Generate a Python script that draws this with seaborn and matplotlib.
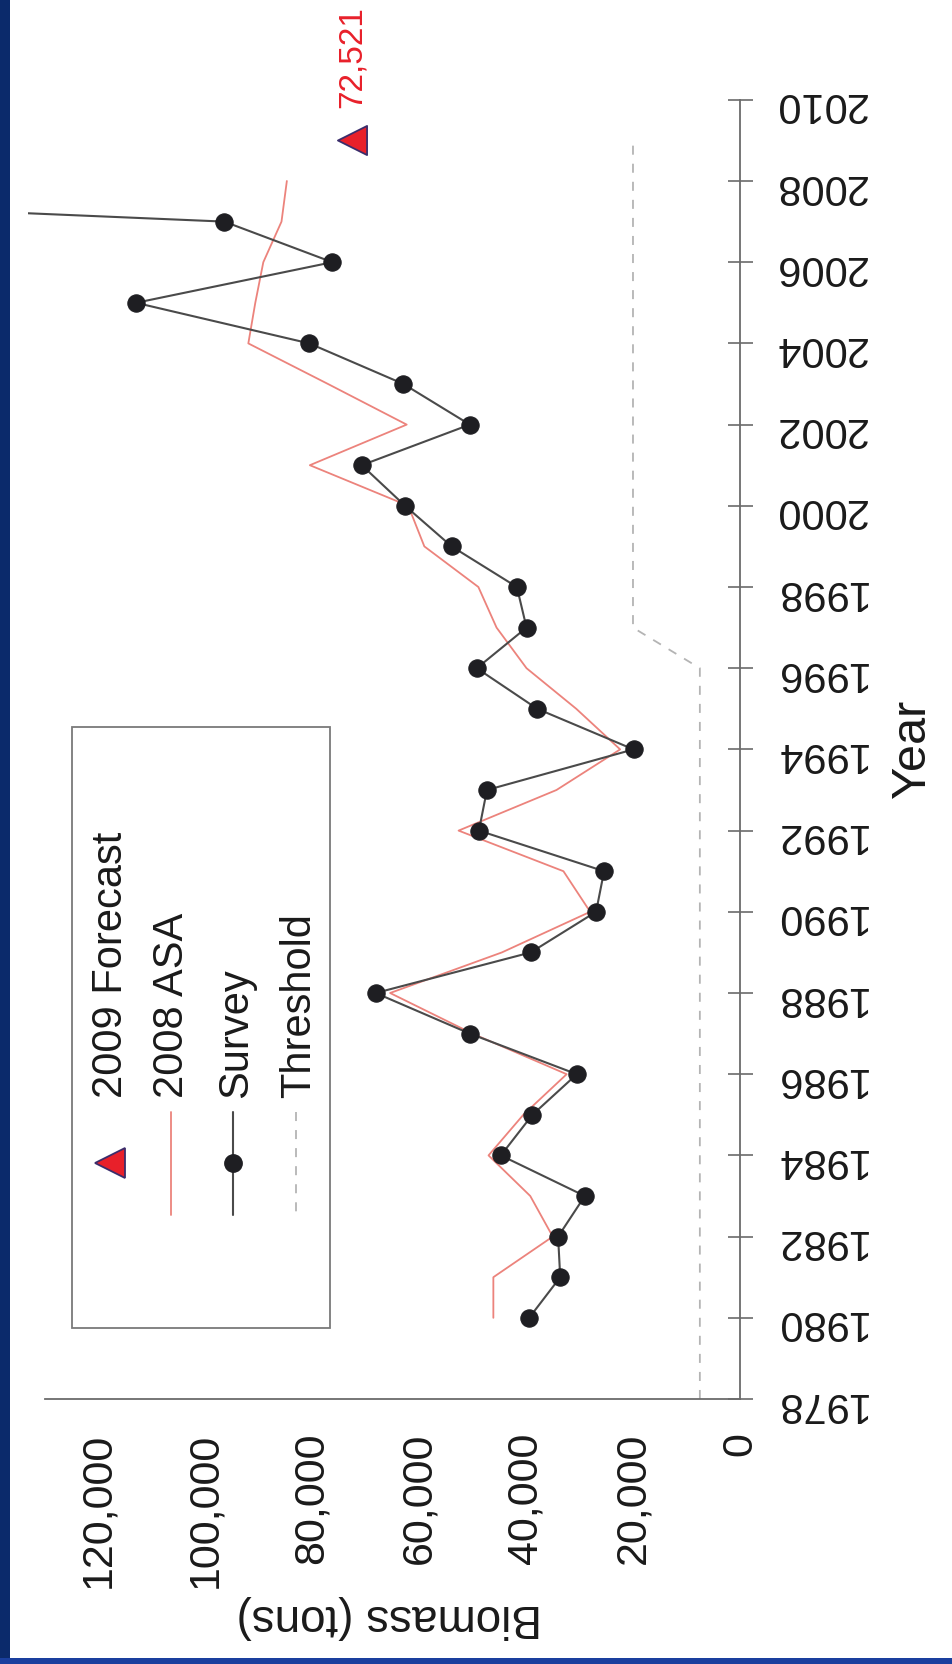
import matplotlib
matplotlib.use("Agg")
import matplotlib.pyplot as plt
from matplotlib.lines import Line2D
from matplotlib.patches import Rectangle
import seaborn as sns

survey_years = list(range(1980, 2009))
survey = [39400, 33600, 34000, 29000, 44700, 38800, 30500, 50500, 68100, 39100,
          26900, 25400, 48800, 47300, 19900, 37900, 49200, 39900, 41700, 53900,
          62600, 70700, 50500, 62900, 80500, 112900, 76200, 96400, 275000]
asa_years = list(range(1980, 2009))
asa = [46100, 46100, 35000, 39200, 47000, 40500, 32400, 50000, 65400, 44500,
       28000, 33000, 52600, 34300, 22400, 30600, 39900, 45500, 48900, 59000,
       62000, 80400, 62300, 77000, 91900, 90600, 89100, 85700, 84700]
threshold_years = [1978, 1996, 1997, 2009]
threshold = [7500, 7500, 20000, 20000]
forecast_year = [2009]
forecast = [72521]
biomass_ticks = [0, 20000, 40000, 60000, 80000, 100000, 120000]
year_ticks = list(range(1978, 2011, 2))
legend_labels = ["2009 Forecast", "2008 ASA", "Survey", "Threshold"]

sns.set_style("white")
plt.rcParams['font.family'] = ['Liberation Sans', 'DejaVu Sans']

W, H = 952, 1664
fig = plt.figure(figsize=(W / 100, H / 100), dpi=100)
fig.patch.set_facecolor('white')


def fx(px):
    return px / W


def fy(py):
    return 1 - py / H


# axes: biomass runs right-to-left, year bottom-to-top (chart turned 90 deg)
ax = fig.add_axes([0.02989, 0.15925, 0.7474, 0.83933])
ax.set_xlim(133000, 0)
ax.set_ylim(1978, 2012.4)

red = '#e8202a'
asa_col = '#ec837c'
grey = '#6b6b6b'

sns.lineplot(x=threshold, y=threshold_years, sort=False, estimator=None, ax=ax,
             color='#b4b4b4', linewidth=1.3, linestyle=(0, (5, 5)))
sns.lineplot(x=asa, y=asa_years, sort=False, estimator=None, ax=ax,
             color=asa_col, linewidth=1.3)
sns.lineplot(x=survey, y=survey_years, sort=False, estimator=None, ax=ax,
             color='#4a4a4a', linewidth=1.5, marker='o', markersize=12.5,
             markerfacecolor='#1e1e22', markeredgecolor='#1e1e22')
sns.scatterplot(x=forecast, y=forecast_year, ax=ax, marker='<', s=440,
                color=red, edgecolor='#3b2d6b', linewidth=1.3, zorder=5)
ax.text(forecast[0], 2009.8, f"{forecast[0]:,}", rotation=90, ha='center',
        va='bottom', color=red, fontsize=24)

# spines / ticks
for side in ['top', 'left']:
    ax.spines[side].set_visible(False)
for side in ['bottom', 'right']:
    ax.spines[side].set_color(grey)
    ax.spines[side].set_linewidth(1.3)
ax.spines['bottom'].set_bounds(0, 130000)
ax.spines['right'].set_bounds(1978, 2010)

ax.set_xticks(biomass_ticks)
ax.set_xticklabels([f"{v:,}" for v in biomass_ticks])
ax.set_yticks(year_ticks)
ax.set_yticklabels([str(y) for y in year_ticks])
ax.yaxis.tick_right()
ax.tick_params(axis='x', direction='inout', length=18, width=1.2, color=grey,
               pad=15, labelsize=31, labelrotation=90, labelcolor='#1a1a1a')
ax.tick_params(axis='y', direction='inout', length=18, width=1.2, color=grey,
               pad=15, labelsize=30, labelrotation=180, labelcolor='#1a1a1a')
ax.set_xlabel('')
ax.set_ylabel('')
ax.grid(False)

fig.text(fx(389), fy(1617), 'Biomass (tons)', rotation=180, ha='center',
         va='center', fontsize=33, color='#1a1a1a')
fig.text(fx(912), fy(749), 'Year', rotation=90, ha='center', va='center',
         fontsize=35, color='#1a1a1a')

# legend, drawn turned like the rest of the chart
fig.add_artist(Rectangle((fx(72), fy(1328)), fx(330) - fx(72), fy(727) - fy(1328),
                         transform=fig.transFigure, facecolor='white',
                         edgecolor='#7a7a7a', linewidth=1.3, zorder=3))
y0, y1, ym = fy(1112), fy(1215), fy(1163)
fig.add_artist(Line2D([fx(110)], [ym], transform=fig.transFigure, marker='<',
                      markersize=21, color=red, markeredgecolor='#3b2d6b',
                      markeredgewidth=1.3, linestyle='none', zorder=4))
fig.add_artist(Line2D([fx(171)] * 2, [y0, y1], transform=fig.transFigure,
                      color=asa_col, linewidth=1.3, zorder=4))
fig.add_artist(Line2D([fx(233)] * 2, [y0, y1], transform=fig.transFigure,
                      color='#4a4a4a', linewidth=1.5, zorder=4))
fig.add_artist(Line2D([fx(233)], [ym], transform=fig.transFigure, marker='o',
                      markersize=12.5, color='#1e1e22', linestyle='none', zorder=4))
fig.add_artist(Line2D([fx(296)] * 2, [y0, y1], transform=fig.transFigure,
                      color='#b4b4b4', linewidth=1.3, linestyle=(0, (5, 5)), zorder=4))
for bx, lab in zip([122, 183, 247, 310], legend_labels):
    fig.text(fx(bx), fy(1098), lab, rotation=90, rotation_mode='anchor',
             ha='left', va='baseline', fontsize=30, color='#1a1a1a', zorder=5)

# slide frame: navy strip at left, blue strip at bottom
fig.add_artist(Rectangle((0, 0), fx(10), 1, transform=fig.transFigure,
                         facecolor='#0b2a6b', edgecolor='none', zorder=6))
fig.add_artist(Rectangle((0, 0), 1, fy(1658), transform=fig.transFigure,
                         facecolor='#1a3f9e', edgecolor='none', zorder=6))

fig.savefig('out.png', dpi=100)
